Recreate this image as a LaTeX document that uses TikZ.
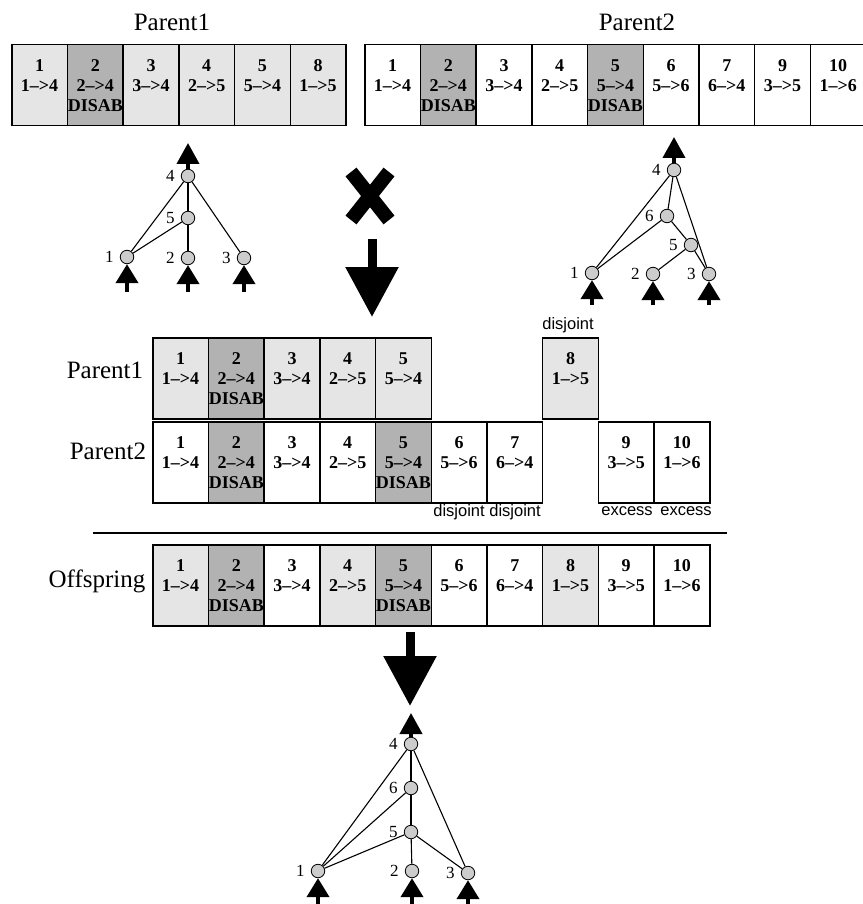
\documentclass[tikz,border=0pt]{standalone}
\usepackage{fontspec}
\setmainfont{Liberation Serif}
\newfontfamily\tagfont{Liberation Sans}
\usetikzlibrary{arrows.meta}
\begin{document}
\begin{tikzpicture}[x=1pt,y=-1pt,
  gene/.style={draw,line width=1.5pt,minimum width=55.7pt,minimum height=81pt,inner sep=0pt,anchor=north west,align=center,font=\fontsize{18}{20}\selectfont\bfseries},
  litgene/.style={gene,fill=black!10},
  whitegene/.style={gene,fill=white},
  disgene/.style={gene,fill=black!30},
  rowtitle/.style={font=\fontsize{25}{28}\selectfont,inner sep=0pt},
  gaptag/.style={font=\tagfont\fontsize{16.5}{18}\selectfont,inner sep=0pt},
  neuron/.style={circle,draw,fill=black!20,minimum size=13.5pt,inner sep=0pt,line width=0.8pt,label distance=0pt},
  numlab/.style={font=\fontsize{17}{17}\selectfont,inner sep=0pt,xshift=-6pt},
  synapse/.style={line width=1.1pt},
  outarrow/.style={-{Triangle[width=22pt,length=21pt]},line width=4pt},
  inarrow/.style={-{Triangle[width=22pt,length=19pt]},line width=4pt},
  bigarrow/.style={-{Triangle[width=51pt,length=50pt]},line width=9pt}]
\useasboundingbox (0,0) rectangle (862,904);
% parent genomes
\node [rowtitle] (t1) at (172,22) {Parent1};
\node [rowtitle] (t2) at (637,22) {Parent2};
\node [litgene] (ta1) at (11,44) {1\\1--{}>4\\~};
\node [disgene] (ta2) at (66.7,44) {2\\2--{}>4\\DISAB};
\node [litgene] (ta3) at (122.4,44) {3\\3--{}>4\\~};
\node [litgene] (ta4) at (178.1,44) {4\\2--{}>5\\~};
\node [litgene] (ta5) at (233.8,44) {5\\5--{}>4\\~};
\node [litgene] (ta8) at (289.5,44) {8\\1--{}>5\\~};
\node [whitegene] (tb1) at (364,44) {1\\1--{}>4\\~};
\node [disgene] (tb2) at (419.7,44) {2\\2--{}>4\\DISAB};
\node [whitegene] (tb3) at (475.4,44) {3\\3--{}>4\\~};
\node [whitegene] (tb4) at (531.1,44) {4\\2--{}>5\\~};
\node [disgene] (tb5) at (586.8,44) {5\\5--{}>4\\DISAB};
\node [whitegene] (tb6) at (642.5,44) {6\\5--{}>6\\~};
\node [whitegene] (tb7) at (698.2,44) {7\\6--{}>4\\~};
\node [whitegene] (tb9) at (753.9,44) {9\\3--{}>5\\~};
\node [whitegene] (tb10) at (809.6,44) {10\\1--{}>6\\~};
% parent networks
\node [neuron,label={[numlab]left:4}] (a4) at (188,176) {};
\node [neuron,label={[numlab]left:5}] (a5) at (188,218) {};
\node [neuron,label={[numlab]left:1}] (a1) at (127,257) {};
\node [neuron,label={[numlab]left:2}] (a2) at (188,258) {};
\node [neuron,label={[numlab]left:3}] (a3) at (244,258) {};
\draw [synapse] (a4) -- (a5);
\draw [synapse] (a4) -- (a1);
\draw [synapse] (a4) -- (a3);
\draw [synapse] (a5) -- (a1);
\draw [synapse] (a5) -- (a2);
\coordinate (a4out) at (188,143);
\coordinate (a1in) at (127,292);
\coordinate (a2in) at (188,292);
\coordinate (a3in) at (244,292);
\draw [outarrow] (a4) -- (a4out);
\draw [inarrow] (a1in) -- (a1);
\draw [inarrow] (a2in) -- (a2);
\draw [inarrow] (a3in) -- (a3);
\node [neuron,label={[numlab]left:4}] (b4) at (674,170) {};
\node [neuron,label={[numlab]left:6}] (b6) at (667,216) {};
\node [neuron,label={[numlab]left:5}] (b5) at (691,245) {};
\node [neuron,label={[numlab]left:1}] (b1) at (592,273) {};
\node [neuron,label={[numlab]left:2}] (b2) at (653,274) {};
\node [neuron,label={[numlab]left:3}] (b3) at (709,274) {};
\draw [synapse] (b4) -- (b1);
\draw [synapse] (b4) -- (b6);
\draw [synapse] (b4) -- (b3);
\draw [synapse] (b6) -- (b1);
\draw [synapse] (b6) -- (b5);
\draw [synapse] (b5) -- (b2);
\draw [synapse] (b5) -- (b3);
\coordinate (b4out) at (674,137);
\coordinate (b1in) at (592,305);
\coordinate (b2in) at (653,305);
\coordinate (b3in) at (709,305);
\draw [outarrow] (b4) -- (b4out);
\draw [inarrow] (b1in) -- (b1);
\draw [inarrow] (b2in) -- (b2);
\draw [inarrow] (b3in) -- (b3);
% crossing
\draw [line width=14pt] (351,172) -- (389,220);
\draw [line width=14pt] (389,172) -- (351,220);
\coordinate (xa) at (372,239);
\coordinate (xb) at (372,317);
\draw [bigarrow] (xa) -- (xb);
% matching up
\node [rowtitle] (m1) at (105,370) {Parent1};
\node [rowtitle] (m2) at (108,451) {Parent2};
\node [litgene] (ma1) at (152,337) {1\\1--{}>4\\~};
\node [disgene] (ma2) at (207.7,337) {2\\2--{}>4\\DISAB};
\node [litgene] (ma3) at (263.4,337) {3\\3--{}>4\\~};
\node [litgene] (ma4) at (319.1,337) {4\\2--{}>5\\~};
\node [litgene] (ma5) at (374.8,337) {5\\5--{}>4\\~};
\node [litgene] (ma8) at (541.9,337) {8\\1--{}>5\\~};
\node [whitegene] (mb1) at (152,421) {1\\1--{}>4\\~};
\node [disgene] (mb2) at (207.7,421) {2\\2--{}>4\\DISAB};
\node [whitegene] (mb3) at (263.4,421) {3\\3--{}>4\\~};
\node [whitegene] (mb4) at (319.1,421) {4\\2--{}>5\\~};
\node [disgene] (mb5) at (374.8,421) {5\\5--{}>4\\DISAB};
\node [whitegene] (mb6) at (430.5,421) {6\\5--{}>6\\~};
\node [whitegene] (mb7) at (486.2,421) {7\\6--{}>4\\~};
\node [whitegene] (mb9) at (597.6,421) {9\\3--{}>5\\~};
\node [whitegene] (mb10) at (653.3,421) {10\\1--{}>6\\~};
\node [gaptag] (d8) at (568,325) {disjoint};
\node [gaptag] (d6) at (459,512) {disjoint};
\node [gaptag] (d7) at (515,512) {disjoint};
\node [gaptag] (e9) at (627,511) {excess};
\node [gaptag] (e10) at (686,511) {excess};
\draw [line width=1.2pt] (93,533) -- (727,533);
% offspring
\node [rowtitle] (o) at (97,581) {Offspring};
\node [litgene] (oc1) at (152,544) {1\\1--{}>4\\~};
\node [disgene] (oc2) at (207.7,544) {2\\2--{}>4\\DISAB};
\node [whitegene] (oc3) at (263.4,544) {3\\3--{}>4\\~};
\node [litgene] (oc4) at (319.1,544) {4\\2--{}>5\\~};
\node [disgene] (oc5) at (374.8,544) {5\\5--{}>4\\DISAB};
\node [whitegene] (oc6) at (430.5,544) {6\\5--{}>6\\~};
\node [whitegene] (oc7) at (486.2,544) {7\\6--{}>4\\~};
\node [litgene] (oc8) at (541.9,544) {8\\1--{}>5\\~};
\node [whitegene] (oc9) at (597.6,544) {9\\3--{}>5\\~};
\node [whitegene] (oc10) at (653.3,544) {10\\1--{}>6\\~};
\coordinate (ya) at (410,632);
\coordinate (yb) at (410,706);
\draw [bigarrow] (ya) -- (yb);
% offspring network
\node [neuron,label={[numlab]left:4}] (c4) at (411,744) {};
\node [neuron,label={[numlab]left:6}] (c6) at (411,788) {};
\node [neuron,label={[numlab]left:5}] (c5) at (411,832) {};
\node [neuron,label={[numlab]left:1}] (c1) at (318,871) {};
\node [neuron,label={[numlab]left:2}] (c2) at (412,871) {};
\node [neuron,label={[numlab]left:3}] (c3) at (468,873) {};
\draw [synapse] (c4) -- (c1);
\draw [synapse] (c4) -- (c6);
\draw [synapse] (c4) -- (c3);
\draw [synapse] (c6) -- (c1);
\draw [synapse] (c6) -- (c5);
\draw [synapse] (c5) -- (c1);
\draw [synapse] (c5) -- (c2);
\draw [synapse] (c5) -- (c3);
\coordinate (c4out) at (411,713);
\coordinate (c1in) at (318,906);
\coordinate (c2in) at (412,906);
\coordinate (c3in) at (468,906);
\draw [outarrow] (c4) -- (c4out);
\draw [inarrow] (c1in) -- (c1);
\draw [inarrow] (c2in) -- (c2);
\draw [inarrow] (c3in) -- (c3);
\end{tikzpicture}
\end{document}
